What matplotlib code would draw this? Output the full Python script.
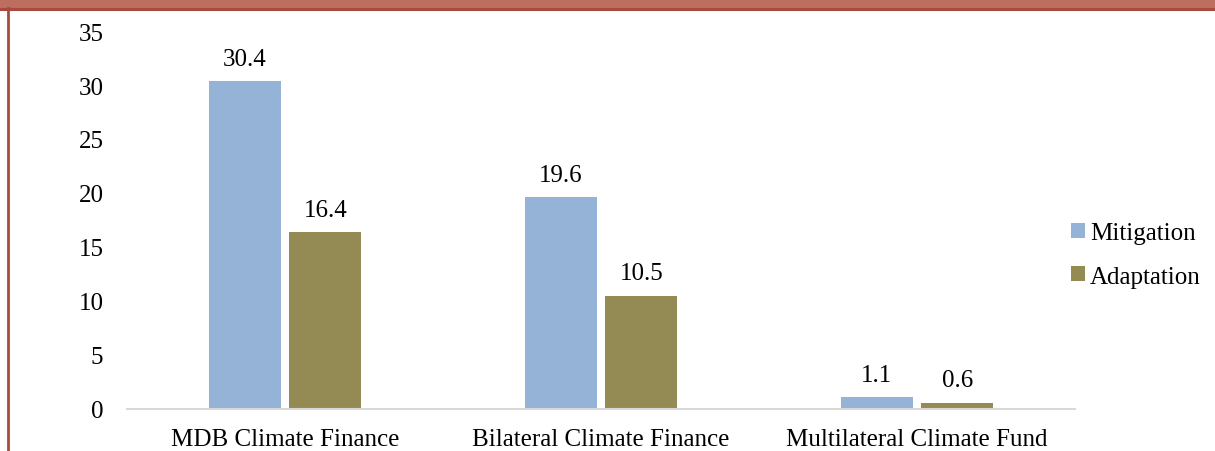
import numpy as np
import matplotlib.pyplot as plt
from matplotlib.patches import Rectangle
from matplotlib.lines import Line2D

categories = ["MDB Climate Finance", "Bilateral Climate Finance", "Multilateral Climate Fund"]
mitigation = [30.4, 19.6, 1.1]
adaptation = [16.4, 10.5, 0.6]
yticks = [0, 5, 10, 15, 20, 25, 30, 35]

plt.rcParams['font.family'] = ['Liberation Serif', 'DejaVu Serif']
fs = 18

fig = plt.figure(figsize=(12.15, 4.52), dpi=100)
W, H = 1215, 452
ax = fig.add_axes([127 / W, 1 - 410 / H, 948 / W, (410 - 32) / H])

x = np.arange(len(categories))
width = 0.228
off = 0.128
b1 = ax.bar(x - off, mitigation, width, color="#95B3D7", label="Mitigation")
b2 = ax.bar(x + off, adaptation, width, color="#948A54", label="Adaptation")

for rects, vals in ((b1, mitigation), (b2, adaptation)):
    for r, v in zip(rects, vals):
        ax.annotate(f"{v}", xy=(r.get_x() + r.get_width() / 2, v),
                    xytext=(0, 8), textcoords="offset points",
                    ha="center", va="bottom", fontsize=fs)

ax.set_xlim(-0.5, 2.5)
ax.set_ylim(0, 35)
ax.set_yticks(yticks)
ax.set_xticks(x, labels=categories)
ax.tick_params(axis="both", length=0, labelsize=fs)
ax.tick_params(axis="y", pad=17)
ax.tick_params(axis="x", pad=14)
for s in ("top", "right", "left"):
    ax.spines[s].set_visible(False)
ax.spines["bottom"].set_color("#D9D9D9")
ax.spines["bottom"].set_linewidth(1.5)

ax.legend(loc="center left", bbox_to_anchor=(1071 / W, 1 - 256 / H),
          bbox_transform=fig.transFigure, frameon=False, fontsize=fs,
          handlelength=0.55, handleheight=0.55, handletextpad=0.2,
          labelspacing=0.85, borderaxespad=0, borderpad=0)

# page frame: top band and left border
fig.patches.append(Rectangle((0, 1 - 8 / H), 1, 8 / H, transform=fig.transFigure,
                             color="#BC6F5E", zorder=0))
fig.lines.append(Line2D([0, 1], [1 - 9.5 / H, 1 - 9.5 / H], transform=fig.transFigure,
                        color="#A84A40", linewidth=2.2))
fig.lines.append(Line2D([8 / W, 8 / W], [0, 1 - 9 / H], transform=fig.transFigure,
                        color="#A84A40", linewidth=2))

fig.savefig("out.png", dpi=100)
